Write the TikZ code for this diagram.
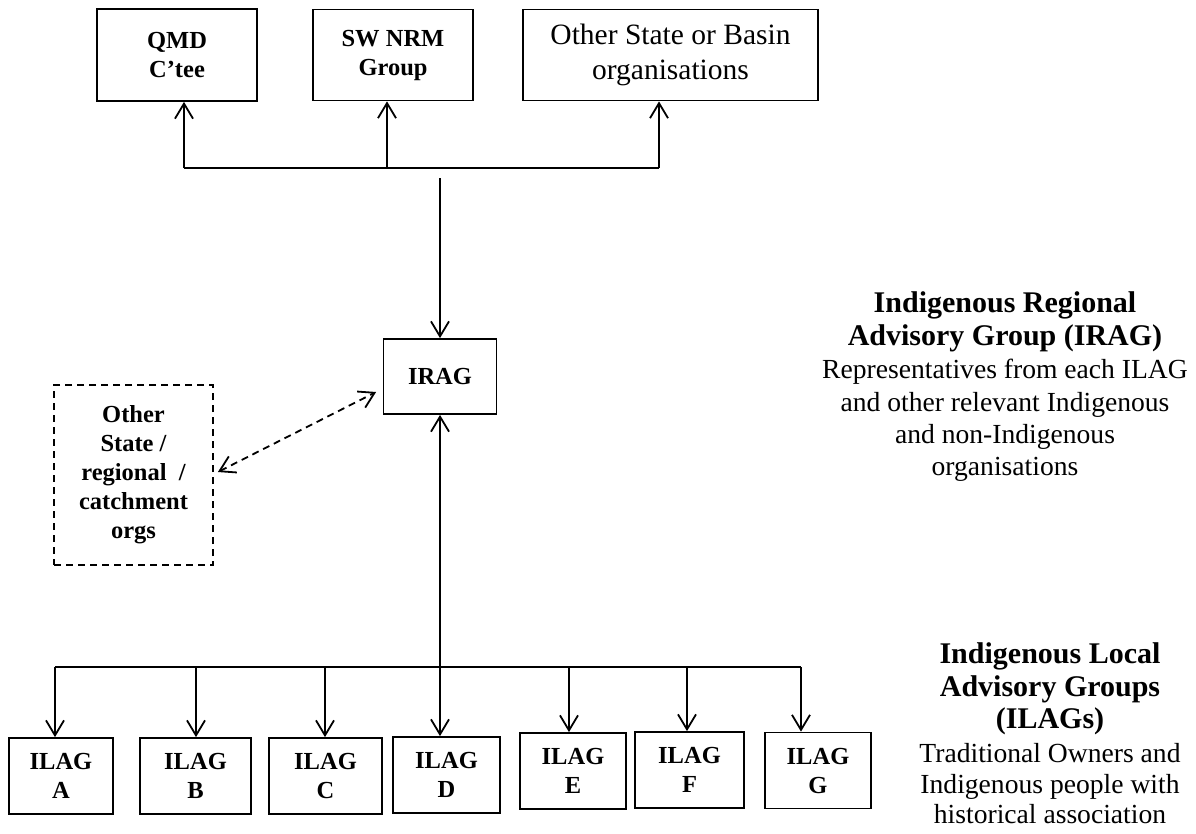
\documentclass[tikz,border=0pt]{standalone}
\usepackage{fontspec}
\setmainfont{Liberation Serif}
\usetikzlibrary{arrows.meta}

\begin{document}
\begin{tikzpicture}[x=1pt, y=-1pt, line width=1.8pt,
  arr/.style={-{Straight Barb[length=15pt,width=18pt]}},
  twoway/.style={{Straight Barb[length=15pt,width=18pt]}-{Straight Barb[length=15pt,width=18pt]}},
  dashline/.style={dash pattern=on 7pt off 5pt},
  box/.style={draw, inner sep=0pt, align=center, font=\fontsize{24.5}{29}\selectfont\bfseries},
  ilag/.style={box, minimum height=76pt},
  headtxt/.style={anchor=base, inner sep=0pt, font=\fontsize{30}{32}\selectfont\bfseries},
  bodytxt/.style={anchor=base, inner sep=0pt, font=\fontsize{27.6}{32}\selectfont}]
\useasboundingbox (0,0) rectangle (1196,833);

\node[box, minimum width=160pt, minimum height=92pt] at (177,55)  (qmd)   {QMD\\C'tee};
\node[box, minimum width=160pt, minimum height=91pt] at (393,55)  (swnrm) {SW NRM\\Group};
\node[box, minimum width=295pt, minimum height=91pt,
      font=\fontsize{29.5}{35}\selectfont] at (670.5,55) (other) {Other State or Basin\\organisations};

\node[box, minimum width=113pt, minimum height=75pt] at (440,376.5) (irag) {IRAG};

\node[box, dashline, minimum width=159pt, minimum height=180pt] at (133.5,475) (orgs)
  {Other\\State /\\regional\ \ /\\catchment\\orgs};

\node[ilag, minimum width=104pt] at (61,776)    (ilaga) {ILAG\\A};
\node[ilag, minimum width=111pt] at (195.5,776) (ilagb) {ILAG\\B};
\node[ilag, minimum width=113pt] at (325.5,776) (ilagc) {ILAG\\C};
\node[ilag, minimum width=107pt] at (446.5,775) (ilagd) {ILAG\\D};
\node[ilag, minimum width=106pt] at (573,771)   (ilage) {ILAG\\E};
\node[ilag, minimum width=109pt] at (689.5,770) (ilagf) {ILAG\\F};
\node[ilag, minimum width=106pt] at (818,770.5) (ilagg) {ILAG\\G};

% top bus
\coordinate (busq) at (184,168);
\coordinate (buss) at (387,168);
\coordinate (buso) at (659,168);
\coordinate (irtop) at (440,178);

\draw (busq) -- (buso);
\draw[arr] (busq) -- (busq |- qmd.south);
\draw[arr] (buss) -- (buss |- swnrm.south);
\draw[arr] (buso) -- (buso |- other.south);
\draw[arr] (irtop) -- (irag.north);

\draw[twoway, dashline] ([xshift=4pt,yshift=3pt]orgs.east) -- ([xshift=-6.5pt,yshift=-15.5pt]irag.west);

% bottom bus
\coordinate (busa) at (55,667);
\coordinate (busb) at (196,667);
\coordinate (busc) at (325,667);
\coordinate (busd) at (440,667);
\coordinate (buse) at (569,667);
\coordinate (busf) at (687,667);
\coordinate (busg) at (801,667);

\draw (busa) -- (busg);
\draw[arr] (busd) -- (irag.south);
\draw[arr] (busa) -- (busa |- ilaga.north);
\draw[arr] (busb) -- (busb |- ilagb.north);
\draw[arr] (busc) -- (busc |- ilagc.north);
\draw[arr] (busd) -- (busd |- ilagd.north);
\draw[arr] (buse) -- (buse |- ilage.north);
\draw[arr] (busf) -- (busf |- ilagf.north);
\draw[arr] (busg) -- (busg |- ilagg.north);

% side notes
\node[headtxt] at (1005,312) (irh1) {Indigenous Regional};
\node[headtxt] at (1005,345) (irh2) {Advisory Group (IRAG)};
\node[bodytxt] at (1005,378) (irb1) {Representatives from each ILAG};
\node[bodytxt] at (1005,411) (irb2) {and other relevant Indigenous};
\node[bodytxt] at (1005,443) (irb3) {and non-Indigenous};
\node[bodytxt] at (1005,475) (irb4) {organisations};

\node[headtxt] at (1050,663) (ilh1) {Indigenous Local};
\node[headtxt] at (1050,696) (ilh2) {Advisory Groups};
\node[headtxt] at (1050,728) (ilh3) {(ILAGs)};
\node[bodytxt] at (1050,762) (ilb1) {Traditional Owners and};
\node[bodytxt] at (1050,793) (ilb2) {Indigenous people with};
\node[bodytxt] at (1050,823) (ilb3) {historical association};

\end{tikzpicture}
\end{document}
